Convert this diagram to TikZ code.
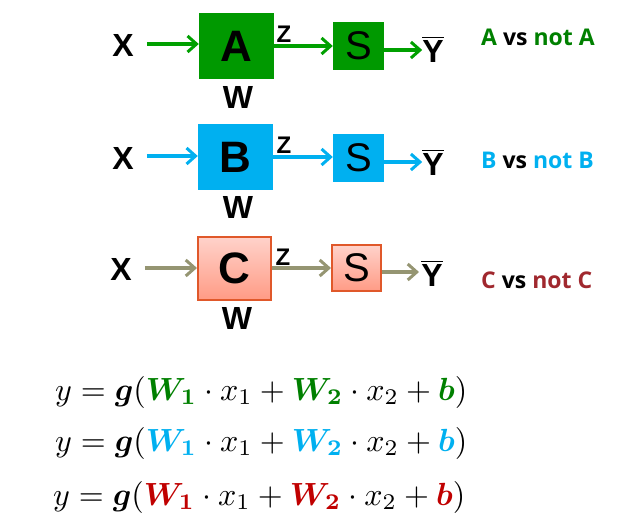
\documentclass[tikz,border=0pt]{standalone}
\usepackage{fontspec}
\usepackage{amsmath}
\usepackage{bm}
\usetikzlibrary{arrows.meta}
\newfontfamily\arialf{Liberation Sans}
\newfontfamily\labf{Open Sans}
\definecolor{gbox}{HTML}{009900}
\definecolor{garr}{HTML}{00A000}
\definecolor{bbox}{HTML}{00B0F0}
\definecolor{carr}{HTML}{959572}
\definecolor{cbord}{HTML}{E0582A}
\definecolor{ctop}{HTML}{FFD2CA}
\definecolor{cbot}{HTML}{FF9B85}
\definecolor{tgreen}{HTML}{008000}
\definecolor{tblue}{HTML}{00B0F0}
\definecolor{tred}{HTML}{A0282E}
\definecolor{ered}{HTML}{C00000}
\tikzset{
  lbl/.style={font=\arialf\bfseries\fontsize{32}{32}\selectfont, inner sep=0pt},
  zlbl/.style={font=\arialf\bfseries\fontsize{24}{24}\selectfont, inner sep=0pt},
  bigbox/.style={rectangle, minimum width=75pt, minimum height=66pt, inner sep=0pt,
     font=\arialf\bfseries\fontsize{44}{44}\selectfont},
  sbox/.style={rectangle, minimum width=51pt, minimum height=48pt, inner sep=0pt,
     font=\arialf\fontsize{40}{40}\selectfont},
  arr/.style={line width=3.5pt, -{Straight Barb[length=9pt,width=16pt,line width=3pt]}},
  side/.style={font=\labf\bfseries\fontsize{23}{23}\selectfont, inner sep=0pt, anchor=west},
  eqn/.style={inner sep=0pt, anchor=west}
}
\newcommand{\ybar}{$\overline{\mbox{Y}}$}
\begin{document}
\begin{tikzpicture}[x=1pt,y=-1pt]
\useasboundingbox (0,0) rectangle (638,520);
% Row 1
\node[lbl] (x1) at (123,45) {X};
\node[bigbox, fill=gbox] (a) at (236.5,46) {A};
\node[sbox, fill=gbox] (s1) at (358.5,46) {S};
\node[lbl] (y1) at (433,49) {\ybar};
\node[zlbl] (z1) at (284,34) {Z};
\node[lbl] (w1) at (238,97) {W};
\draw[arr, garr] (x1.east |- 0,44) ++(13,0) -- (a.west |- 0,44);
\draw[arr, garr] (a.east |- 0,46) -- (s1.west |- 0,46);
\draw[arr, garr] (s1.east |- 0,50) -- ++(38,0) coordinate (e1);
\node[side] (t1) at (481,37) {\textcolor{tgreen}{A} vs \textcolor{tgreen}{not A}};
% Row 2
\node[lbl] (x2) at (123,158) {X};
\node[bigbox, fill=bbox] (b) at (235.5,157) {B};
\node[sbox, fill=bbox] (s2) at (358.5,157.5) {S};
\node[lbl] (y2) at (433,162) {\ybar};
\node[zlbl] (z2) at (284,145) {Z};
\node[lbl] (w2) at (238,207) {W};
\draw[arr, bbox] (x2.east |- 0,156) ++(13,0) -- (b.west |- 0,156);
\draw[arr, bbox] (b.east |- 0,157) -- (s2.west |- 0,157);
\draw[arr, bbox] (s2.east |- 0,162) -- ++(38,0) coordinate (e2);
\node[side] (t2) at (481,160) {\textcolor{tblue}{B} vs \textcolor{tblue}{not B}};
% Row 3
\node[lbl] (x3) at (121,269) {X};
\node[bigbox, draw=cbord, line width=2pt, top color=ctop, bottom color=cbot,
      minimum width=73pt, minimum height=63pt] (c) at (234.5,268.5) {C};
\node[sbox, draw=cbord, line width=2pt, top color=ctop, bottom color=cbot,
      minimum width=49pt, minimum height=46pt] (s3) at (356.5,268) {S};
\node[lbl] (y3) at (432,273) {\ybar};
\node[zlbl] (z3) at (283,257) {Z};
\node[lbl] (w3) at (237,318) {W};
\draw[arr, carr] (x3.east |- 0,268) ++(13,0) -- (c.west |- 0,268);
\draw[arr, carr] (c.east |- 0,268) -- (s3.west |- 0,268);
\draw[arr, carr] (s3.east |- 0,272) -- ++(37,0) coordinate (e3);
\node[side] (t3) at (481,280) {\textcolor{tred}{C} vs \textcolor{tred}{not C}};
% Equations
\node[eqn] (eq1) at (55,392) {\resizebox{412pt}{!}{$y=\bm{g}(\textcolor{tgreen}{\bm{W_1}}\cdot x_1+\textcolor{tgreen}{\bm{W_2}}\cdot x_2+\textcolor{tgreen}{\bm{b}})$}};
\node[eqn] (eq2) at (55,443) {\resizebox{412pt}{!}{$y=\bm{g}(\textcolor{tblue}{\bm{W_1}}\cdot x_1+\textcolor{tblue}{\bm{W_2}}\cdot x_2+\textcolor{tblue}{\bm{b}})$}};
\node[eqn] (eq3) at (53,497) {\resizebox{412pt}{!}{$y=\bm{g}(\textcolor{ered}{\bm{W_1}}\cdot x_1+\textcolor{ered}{\bm{W_2}}\cdot x_2+\textcolor{ered}{\bm{b}})$}};
\end{tikzpicture}
\end{document}
